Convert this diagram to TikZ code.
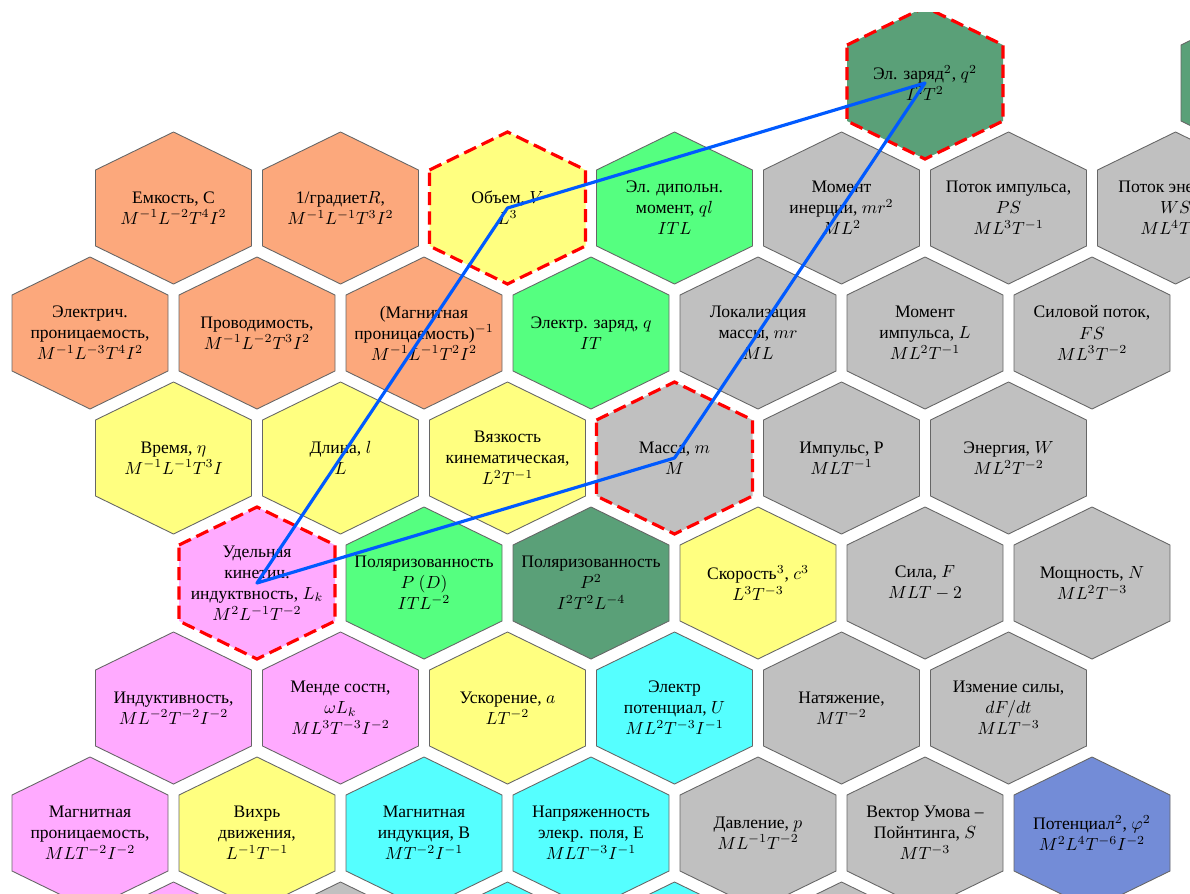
\documentclass[tikz,border=0pt]{standalone}
\usepackage[no-math]{fontspec}
\setmainfont{Liberation Serif}
\definecolor{corange}{HTML}{FCA87C}
\definecolor{cyellow}{HTML}{FFFF80}
\definecolor{cgreen}{HTML}{55FF80}
\definecolor{cdkgreen}{HTML}{5AA078}
\definecolor{cgray}{HTML}{C0C0C0}
\definecolor{cpink}{HTML}{FFAAFF}
\definecolor{ccyan}{HTML}{55FFFF}
\definecolor{cblue}{HTML}{738CD7}
\definecolor{linkblue}{HTML}{005AFF}
\definecolor{markred}{HTML}{FF0000}
\tikzset{
  % contorno esagonale di una cella
  hexshape/.style={insert path={++(-78,-38) -- ++(78,-38) -- ++(78,38) -- ++(0,76)
    -- ++(-78,38) -- ++(-78,-38) -- cycle}},
  % bordo normale e bordo evidenziato
  hexline/.style={draw=black!60, line width=0.5pt},
  hexmark/.style={draw=markred, line width=1.8pt, dash pattern=on 7.5pt off 3.5pt},
  % testo di una cella
  celltext/.style={align=center, inner sep=0pt},
  % collegamento fra le celle scelte
  link/.style={line width=1.8pt, linkblue, line join=round},
}

\begin{document}
\begin{tikzpicture}[x=0.02cm, y=-0.02cm]
  \useasboundingbox (0,0) rectangle (1190,893);
  \clip (0,12) rectangle (1190,893);
  \foreach \h/\r/\c/\s/\t in {
    11/0/cdkgreen/hexmark/{Эл. заряд$^2$, $q^2$\\$I^2T^2$},
    15/0/cdkgreen/hexline/{},
    2/1/corange/hexline/{Емкость, С\\$M^{-1}L^{-2}T^4I^2$},
    4/1/corange/hexline/{1/градиет$R$,\\$M^{-1}L^{-1}T^3I^2$},
    6/1/cyellow/hexmark/{Объем, $V$\\$L^3$},
    8/1/cgreen/hexline/{Эл. дипольн.\\момент, $ql$\\$ITL$},
    10/1/cgray/hexline/{Момент\\инерции, $mr^2$\\$ML^2$},
    12/1/cgray/hexline/{Поток импульса,\\$PS$\\$ML^3T^{-1}$},
    14/1/cgray/hexline/{Поток энергии,\\$WS$\\$ML^4T^{-3}$},
    1/2/corange/hexline/{Электрич.\\проницаемость,\\$M^{-1}L^{-3}T^4I^2$},
    3/2/corange/hexline/{Проводимость,\\$M^{-1}L^{-2}T^3I^2$},
    5/2/corange/hexline/{(Магнитная\\проницаемость)$^{-1}$\\$M^{-1}L^{-1}T^2I^2$},
    7/2/cgreen/hexline/{Электр. заряд, $q$\\$IT$},
    9/2/cgray/hexline/{Локализация\\массы, $mr$\\$ML$},
    11/2/cgray/hexline/{Момент\\импульса, $L$\\$ML^2T^{-1}$},
    13/2/cgray/hexline/{Силовой поток,\\$FS$\\$ML^3T^{-2}$},
    2/3/cyellow/hexline/{Время, $\eta$\\$M^{-1}L^{-1}T^3I$},
    4/3/cyellow/hexline/{Длина, $l$\\$L$},
    6/3/cyellow/hexline/{Вязкость\\кинематическая,\\$L^2T^{-1}$},
    8/3/cgray/hexmark/{Масса, $m$\\$M$},
    10/3/cgray/hexline/{Импульс, P\\$MLT^{-1}$},
    12/3/cgray/hexline/{Энергия, $W$\\$ML^2T^{-2}$},
    3/4/cpink/hexmark/{Удельная\\кинетич.\\индуктвность, $L_k$\\$M^2L^{-1}T^{-2}$},
    5/4/cgreen/hexline/{Поляризованность\\$P$ $(D)$\\$ITL^{-2}$},
    7/4/cdkgreen/hexline/{Поляризованность\\$P^2$\\$I^2T^2L^{-4}$},
    9/4/cyellow/hexline/{Скорость$^3$, $c^3$\\$L^3T^{-3}$},
    11/4/cgray/hexline/{Сила, $F$\\$MLT-2$},
    13/4/cgray/hexline/{Мощность, $N$\\$ML^2T^{-3}$},
    2/5/cpink/hexline/{Индуктивность,\\$ML^{-2}T^{-2}I^{-2}$},
    4/5/cpink/hexline/{Менде состн,\\$\omega L_k$\\$ML^3T^{-3}I^{-2}$},
    6/5/cyellow/hexline/{Ускорение, $a$\\$LT^{-2}$},
    8/5/ccyan/hexline/{Электр\\потенциал, $U$\\$ML^2T^{-3}I^{-1}$},
    10/5/cgray/hexline/{Натяжение,\\$MT^{-2}$},
    12/5/cgray/hexline/{Измение силы,\\$dF/dt$\\$MLT^{-3}$},
    1/6/cpink/hexline/{Магнитная\\проницаемость,\\$MLT^{-2}I^{-2}$},
    3/6/cyellow/hexline/{Вихрь\\движения,\\$L^{-1}T^{-1}$},
    5/6/ccyan/hexline/{Магнитная\\индукция, В\\$MT^{-2}I^{-1}$},
    7/6/ccyan/hexline/{Напряженность\\элекр. поля, Е\\$MLT^{-3}I^{-1}$},
    9/6/cgray/hexline/{Давление, $p$\\$ML^{-1}T^{-2}$},
    11/6/cgray/hexline/{Вектор Умова --\\Пойнтинга, $S$\\$MT^{-3}$},
    13/6/cblue/hexline/{Потенциал$^2$, $\varphi^2$\\$M^2L^4T^{-6}I^{-2}$},
    2/7/cpink/hexline/{},
    4/7/cgray/hexline/{},
    6/7/ccyan/hexline/{},
    8/7/ccyan/hexline/{},
    10/7/cgray/hexline/{}} {
    \coordinate (p) at ({6.5+83.5*\h},{83+125*\r});
    \fill[\c] (p) [hexshape];
    \begin{scope}
      \clip (p) ++(-69,-70) rectangle ++(138,140);
      \node[celltext] (c-\h-\r) at (p) {\t};
    \end{scope}
    \draw[\s] (p) [hexshape];
  }
  \draw[link] (c-11-0.center) -- (c-6-1.center) -- (c-3-4.center)
    -- (c-8-3.center) -- cycle;
\end{tikzpicture}
\end{document}
